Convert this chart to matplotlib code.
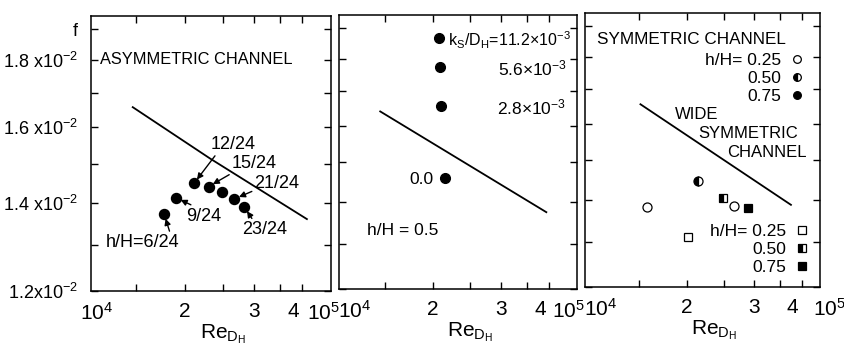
import matplotlib.pyplot as plt
from matplotlib.ticker import FixedLocator, NullLocator
from matplotlib.transforms import ScaledTranslation

plt.rcParams['font.family'] = ['Liberation Sans', 'DejaVu Sans']
plt.rcParams['mathtext.fontset'] = 'custom'
plt.rcParams['mathtext.rm'] = 'Liberation Sans'
plt.rcParams['mathtext.it'] = 'Liberation Sans'
plt.rcParams['mathtext.bf'] = 'Liberation Sans:bold'

# wide symmetric channel curve, as drawn in each panel (Re_DH, f)
wide1_re = [1.47e4, 2.32e4, 4.11e4]
wide1_f = [1.657e-2, 1.514e-2, 1.361e-2]
wide2_re = [1.46e4, 3.93e4]
wide2_f = [1.641e-2, 1.374e-2]
wide3_re = [1.51e4, 3.75e4]
wide3_f = [1.656e-2, 1.387e-2]

# asymmetric channel
asym_labels = ['h/H=6/24', '9/24', '12/24', '15/24', '', '21/24', '23/24']
asym_re = [1.77e4, 1.90e4, 2.11e4, 2.30e4, 2.49e4, 2.68e4, 2.84e4]
asym_f = [1.373e-2, 1.413e-2, 1.449e-2, 1.441e-2, 1.428e-2, 1.410e-2, 1.390e-2]

# rough wall, h/H = 0.5
rough_labels = ['k$_S$/D$_H$=11.2×10$^{-3}$', '5.6×10$^{-3}$', '2.8×10$^{-3}$', '0.0']
rough_re = [2.07e4, 2.09e4, 2.10e4, 2.15e4]
rough_f = [1.867e-2, 1.776e-2, 1.656e-2, 1.459e-2]

# symmetric channel, circles and squares by h/H
hh_labels = ['h/H= 0.25', '0.50', '0.75']
circ_re = [[1.57e4, 2.66e4], [2.14e4], []]
circ_f = [[1.381e-2, 1.384e-2], [1.447e-2], []]
sq_re = [[2.01e4], [2.48e4], [2.89e4]]
sq_f = [[1.311e-2], [1.404e-2], [1.380e-2]]

x_ticks = [1.5e4, 2e4, 2.5e4, 3e4, 3.5e4, 4e4]
x_ticklabels = ['', '2', '', '3', '', '4']
y_ticks = [1.2e-2, 1.3e-2, 1.4e-2, 1.5e-2, 1.6e-2, 1.7e-2, 1.8e-2, 1.9e-2]
y_ticklabels = ['1.2x10$^{-2}$', '', '1.4 x10$^{-2}$', '', '1.6 x10$^{-2}$', '',
                '1.8 x10$^{-2}$', 'f']

W, H = 845, 346
fig = plt.figure(figsize=(W / 100, H / 100), dpi=100)


def make_axes(l, t, r, b, xlim, lab_dx):
    ax = fig.add_axes([l / W, 1 - b / H, (r - l) / W, (b - t) / H])
    ax.set_xscale('log')
    ax.set_yscale('log')
    ax.set_xlim(*xlim)
    ax.set_ylim(1.2e-2, 1.945e-2)
    ax.xaxis.set_major_locator(FixedLocator(x_ticks))
    ax.xaxis.set_minor_locator(NullLocator())
    ax.set_xticklabels(x_ticklabels)
    ax.yaxis.set_major_locator(FixedLocator(y_ticks))
    ax.yaxis.set_minor_locator(NullLocator())
    ax.set_yticklabels([])
    ax.tick_params(direction='in', top=True, right=True, length=5, width=1.0,
                   labelsize=15, pad=8)
    # the "4" sits a little left of its tick, clear of the 10^5
    for lab in ax.get_xticklabels():
        if lab.get_text() == '4':
            lab.set_transform(lab.get_transform()
                              + ScaledTranslation(-6.5 / 72, 0, fig.dpi_scale_trans))
    for s in ax.spines.values():
        s.set_linewidth(1.1)
    ax.annotate('10$^4$', (0, 0), xycoords='axes fraction', xytext=(lab_dx[0], -8),
                textcoords='offset points', ha='center', va='top', fontsize=15)
    ax.annotate('10$^5$', (1, 0), xycoords='axes fraction', xytext=(lab_dx[1], -8),
                textcoords='offset points', ha='center', va='top', fontsize=15)
    ax.set_xlabel('Re$_{D_H}$', fontsize=15, labelpad=1, x=0.55)
    return ax


ax1 = make_axes(90.7, 16, 330.7, 290.7, (1.147e4, 4.73e4), (4, -5))
ax2 = make_axes(339, 15, 576.7, 289, (1.142e4, 4.71e4), (11, -6))
ax3 = make_axes(585, 13, 820, 287, (1.08e4, 4.47e4), (11, 7))

ax1.set_yticklabels(y_ticklabels, fontsize=13)
ax1.tick_params(axis='y', pad=9)

# --- panel 1: asymmetric channel ---
ax1.plot(wide1_re, wide1_f, color='black', lw=1.3)
ax1.plot(asym_re, asym_f, 'o', color='black', ms=7.2)
ax1.text(0.04, 0.84, 'ASYMMETRIC CHANNEL', transform=ax1.transAxes,
         fontsize=11.8, va='center')

label_off = {
    'h/H=6/24': ((-15.7, -20.4), (0.88, 1)),
    '9/24': ((19.8, -13.2), (0.3, 1)),
    '12/24': ((28, 28), (0.15, 0)),
    '15/24': ((32.9, 16.7), (0.05, 0)),
    '21/24': ((30.7, 11.2), (0.0, 0.1)),
    '23/24': ((14.9, -16.3), (0.25, 1)),
}
for lab, x, y in zip(asym_labels, asym_re, asym_f):
    if not lab:
        continue
    off, rel = label_off[lab]
    ax1.annotate(lab, (x, y), xytext=off, textcoords='offset points',
                 ha='center', va='center', fontsize=13,
                 arrowprops=dict(arrowstyle='-|>', color='black', lw=1.0,
                                 mutation_scale=9, shrinkA=0, shrinkB=3.5,
                                 relpos=rel))

# --- panel 2: rough wall ---
ax2.plot(wide2_re, wide2_f, color='black', lw=1.3)
ax2.plot(rough_re, rough_f, 'o', color='black', ms=7.0)
rough_off = [(6.3, 'left', 11.5), (91, 'right', 12.5), (90, 'right', 12.5),
             (-8.4, 'right', 12.5)]
for lab, x, y, (dx, ha, fs) in zip(rough_labels, rough_re, rough_f, rough_off):
    ax2.annotate(lab, (x, y), xytext=(dx, 0), textcoords='offset points',
                 ha=ha, va='center_baseline', fontsize=fs)
ax2.text(0.117, 0.215, 'h/H = 0.5', transform=ax2.transAxes, fontsize=12.5,
         va='center')

# --- panel 3: symmetric channel ---
ax3.plot(wide3_re, wide3_f, color='black', lw=1.3)
circ_style = [dict(mfc='white'), dict(mfc='black', fillstyle='left', mfcalt='white'),
              dict(mfc='black')]
circ_h = []
for x, y, st, lab in zip(circ_re, circ_f, circ_style, hh_labels):
    h, = ax3.plot(x, y, 'o', mec='black', ms=6.5, mew=0.9, label=lab, **st)
    circ_h.append(h)
sq_h = []
for x, y, st, lab in zip(sq_re, sq_f, circ_style, hh_labels):
    h, = ax3.plot(x, y, 's', mec='black', ms=5.8, mew=0.9, label=lab, **st)
    sq_h.append(h)

leg_kw = dict(markerfirst=False, frameon=False, fontsize=12.5, borderpad=0,
              borderaxespad=0, handlelength=1.2, handletextpad=0.3,
              labelspacing=0.15)
leg1 = ax3.legend(handles=circ_h, loc='upper right', bbox_to_anchor=(0.945, 0.853),
                  markerscale=0.85, **leg_kw)
ax3.add_artist(leg1)
ax3.legend(handles=sq_h, loc='lower right', bbox_to_anchor=(0.966, 0.045),
           markerscale=0.95, **leg_kw)

ax3.text(0.05, 0.904, 'SYMMETRIC CHANNEL', transform=ax3.transAxes,
         fontsize=12.3, va='center')
ax3.text(0.383, 0.628, 'WIDE', transform=ax3.transAxes, fontsize=12, va='center')
ax3.text(0.481, 0.562, 'SYMMETRIC', transform=ax3.transAxes, fontsize=12, va='center')
ax3.text(0.604, 0.49, 'CHANNEL', transform=ax3.transAxes, fontsize=12, va='center')

fig.savefig('out.png', dpi=100)
